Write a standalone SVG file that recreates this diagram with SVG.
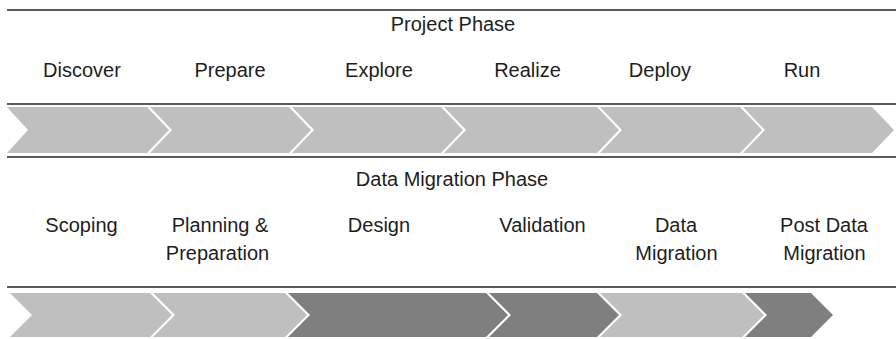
<svg xmlns="http://www.w3.org/2000/svg" width="896" height="339" viewBox="0 0 896 339">
<style>
text{font-family:"Liberation Sans",Arial,sans-serif;font-size:20px;fill:#1e1e1e;text-anchor:middle}
.rule{stroke:#5a5a5a;stroke-width:2;fill:none}
.lt{fill:#bfbfbf}
.dk{fill:#7f7f7f}
</style>
<rect width="896" height="339" fill="#fff"/>
<g id="rules">
<line class="rule" x1="7" y1="10" x2="896" y2="10"/>
<line class="rule" x1="7" y1="104" x2="896" y2="104"/>
<line class="rule" x1="7" y1="157" x2="896" y2="157"/>
<line class="rule" x1="7" y1="287" x2="896" y2="287"/>
</g>
<g id="project-phase"><text x="453" y="31">Project Phase</text></g>
<g id="discover"><polygon class="lt" points="7,107 147,107 169,130 147,153 7,153 28,130"/><text x="82" y="77">Discover</text></g>
<g id="prepare"><polygon class="lt" points="150,107 289,107 311,130 289,153 150,153 172,130"/><text x="230" y="77">Prepare</text></g>
<g id="explore"><polygon class="lt" points="292,107 441,107 463,130 441,153 292,153 314,130"/><text x="379" y="77">Explore</text></g>
<g id="realize"><polygon class="lt" points="444,107 597,107 619,130 597,153 444,153 466,130"/><text x="527.5" y="77">Realize</text></g>
<g id="deploy"><polygon class="lt" points="600,107 740,107 762,130 740,153 600,153 622,130"/><text x="660" y="77">Deploy</text></g>
<g id="run"><polygon class="lt" points="743,107 872,107 894,130 872,153 743,153 765,130"/><text x="802" y="77">Run</text></g>
<g id="data-migration-phase"><text x="452" y="186">Data Migration Phase</text></g>
<g id="scoping"><polygon class="lt" points="10,293 150,293 172,315 150,337 10,337 32,315"/><text x="81.5" y="232">Scoping</text></g>
<g id="planning"><polygon class="lt" points="153,293 285,293 307,315 285,337 153,337 175,315"/><text x="220" y="232">Planning &amp;</text><text x="217.5" y="259.5">Preparation</text></g>
<g id="design"><polygon class="dk" points="288,293 486,293 508,315 486,337 288,337 310,315"/><text x="379" y="232">Design</text></g>
<g id="validation"><polygon class="dk" points="489,293 597,293 619,315 597,337 489,337 511,315"/><text x="542.5" y="232">Validation</text></g>
<g id="data-migration"><polygon class="lt" points="600,293 742,293 764,315 742,337 600,337 622,315"/><text x="676" y="232">Data</text><text x="676.5" y="259.5">Migration</text></g>
<g id="post-data-migration"><polygon class="dk" points="745,293 811,293 833,315 811,337 745,337 767,315"/><text x="824" y="232">Post Data</text><text x="824.5" y="259.5">Migration</text></g>
</svg>
